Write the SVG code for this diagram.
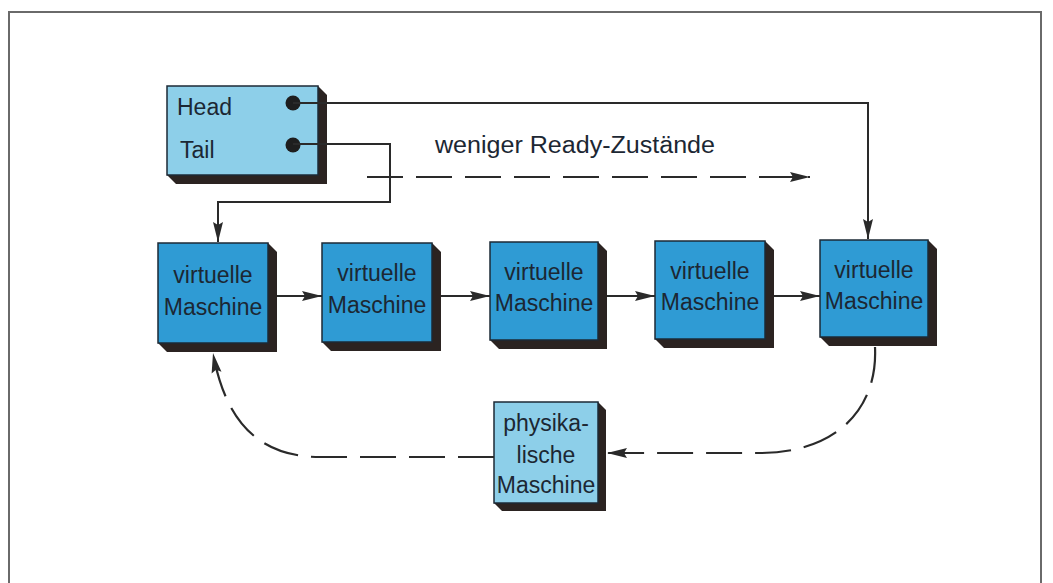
<svg xmlns="http://www.w3.org/2000/svg" width="1053" height="583" viewBox="0 0 1053 583">
<defs>
<style>
.frame{fill:none;stroke:#6a6a6a;stroke-width:2}
.shadow{fill:#2b2321}
.vm{fill:#2f9bd4;stroke:#1d2a36;stroke-width:1.5}
.lt{fill:#8dcfe9;stroke:#1d2a36;stroke-width:1.5}
.t{font-family:"Liberation Sans","DejaVu Sans",sans-serif;font-size:23px;fill:#1c2733}
.c{text-anchor:middle}
.ln{fill:none;stroke:#2a2a2a;stroke-width:2}
.dash{fill:none;stroke:#2a2a2a;stroke-width:2.2;stroke-dasharray:36 13}
</style>
<marker id="ah" markerUnits="userSpaceOnUse" markerWidth="22" markerHeight="12" refX="20" refY="6" orient="auto">
<path d="M0,1 L20,6 L0,11 L3,6 Z" fill="#2a2a2a"/>
</marker>
</defs>
<rect width="1053" height="583" fill="#ffffff"/>
<path class="frame" d="M9,583 V12 H1041 V583"/>

<g id="headtail">
<polygon class="shadow" points="318,86 327,95 327,184 176,184 167,175"/>
<rect class="lt" x="167" y="86" width="151" height="89"/>
<text class="t" x="177" y="115">Head</text>
<text class="t" x="180" y="158">Tail</text>
<circle cx="293" cy="103" r="7.5" fill="#1e1e1e"/>
<circle cx="293" cy="145" r="7.5" fill="#1e1e1e"/>
</g>

<text id="label" class="t" x="435" y="153" font-size="21" textLength="280" lengthAdjust="spacingAndGlyphs">weniger Ready-Zustände</text>

<g id="vm1">
<polygon class="shadow" points="268,243 277,252 277,352 167,352 158,343"/>
<rect class="vm" x="158" y="243" width="110" height="100"/>
<text class="t c" x="213" y="283">virtuelle</text>
<text class="t c" x="213" y="315">Maschine</text>
</g>
<g id="vm2">
<polygon class="shadow" points="432,243 441,252 441,351 331,351 322,342"/>
<rect class="vm" x="322" y="243" width="110" height="99"/>
<text class="t c" x="377" y="281">virtuelle</text>
<text class="t c" x="377" y="313">Maschine</text>
</g>
<g id="vm3">
<polygon class="shadow" points="598,242 607,251 607,349 499,349 490,340"/>
<rect class="vm" x="490" y="242" width="108" height="98"/>
<text class="t c" x="544" y="280">virtuelle</text>
<text class="t c" x="544" y="311">Maschine</text>
</g>
<g id="vm4">
<polygon class="shadow" points="765,241 774,250 774,348 664,348 655,339"/>
<rect class="vm" x="655" y="241" width="110" height="98"/>
<text class="t c" x="710" y="279">virtuelle</text>
<text class="t c" x="710" y="310">Maschine</text>
</g>
<g id="vm5">
<polygon class="shadow" points="928,240 937,249 937,346 829,346 820,337"/>
<rect class="vm" x="820" y="240" width="108" height="97"/>
<text class="t c" x="874" y="278">virtuelle</text>
<text class="t c" x="874" y="309">Maschine</text>
</g>

<g id="phys">
<polygon class="shadow" points="598,402 606,410 606,511 502,511 494,503"/>
<rect class="lt" x="494" y="402" width="104" height="101"/>
<text class="t c" x="546" y="431">physika-</text>
<text class="t c" x="546" y="463">lische</text>
<text class="t c" x="546" y="493">Maschine</text>
</g>

<g id="connectors">
<path class="ln" d="M293,103 H868 V239" marker-end="url(#ah)"/>
<path class="ln" d="M293,144 H390 V202 H218 V242" marker-end="url(#ah)"/>
<path class="dash" d="M367,177 H810" marker-end="url(#ah)"/>
<path class="ln" d="M277,296 H322" marker-end="url(#ah)"/>
<path class="ln" d="M441,296 H490" marker-end="url(#ah)"/>
<path class="ln" d="M607,296 H655" marker-end="url(#ah)"/>
<path class="ln" d="M774,296 H820" marker-end="url(#ah)"/>
<path class="dash" d="M875,347 C878,410 835,453 760,453 L607,453" marker-end="url(#ah)"/>
<path class="dash" d="M494,457 L320,457 C262,457 226,425 213,353" marker-end="url(#ah)"/>
</g>
</svg>
